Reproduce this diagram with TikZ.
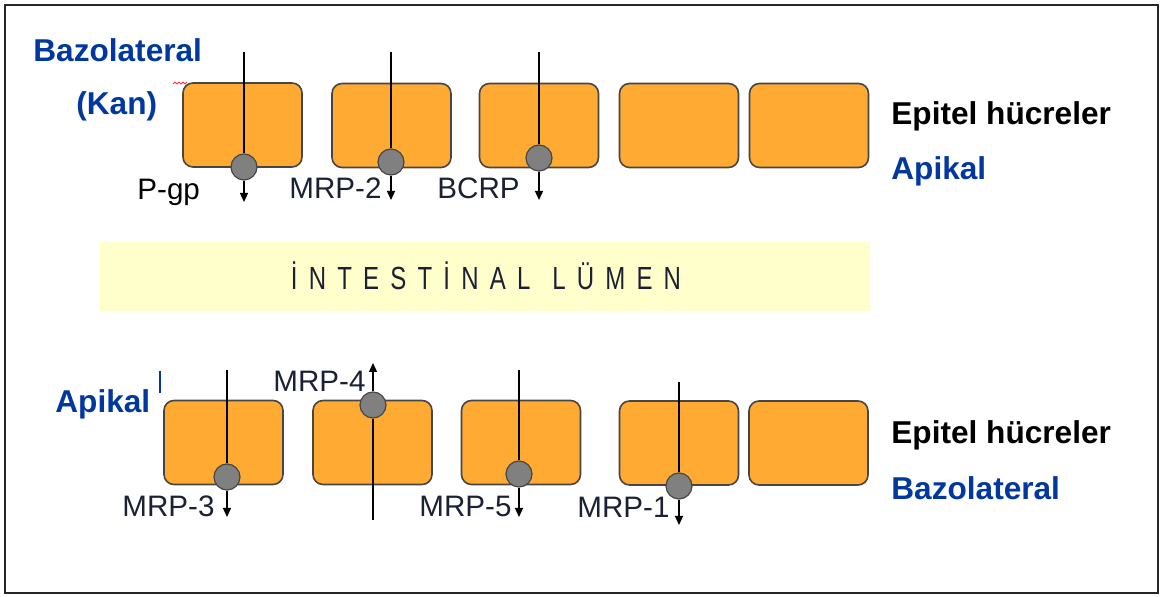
\documentclass[tikz,border=0pt]{standalone}
\usepackage{fontspec}
\setmainfont{Liberation Sans}
\newfontfamily\lumenfont[FakeStretch=0.75,LetterSpace=35]{Liberation Sans}
\usetikzlibrary{arrows.meta}
\definecolor{cellorange}{RGB}{255,170,51}
\definecolor{cellborder}{RGB}{70,70,70}
\definecolor{pumpgrey}{RGB}{128,128,128}
\definecolor{labelblue}{RGB}{0,56,160}
\definecolor{labeldark}{RGB}{28,32,53}
\definecolor{lumenyellow}{RGB}{255,255,204}
\tikzset{
  cell/.style={draw=cellborder, line width=0.8pt, fill=cellorange, rounded corners=5pt,
    minimum width=59.5pt, minimum height=42pt, inner sep=0pt},
  pump/.style={circle, draw=cellborder, line width=0.6pt, fill=pumpgrey, minimum size=13pt, inner sep=0pt},
  wire/.style={line width=0.65pt, black},
  flow/.style={line width=0.65pt, black, -{Triangle[length=4.5pt,width=4pt]}},
  sidelabel/.style={font=\bfseries\fontsize{15.8}{18}\selectfont, text=labelblue, anchor=base west, inner sep=0pt},
  cellslabel/.style={font=\bfseries\fontsize{15.8}{18}\selectfont, text=black, anchor=base west, inner sep=0pt},
  pumplabel/.style={font=\fontsize{14.8}{17}\selectfont, text=labeldark, anchor=base west, inner sep=0pt},
}
\begin{document}
\begin{tikzpicture}[x=0.5pt,y=-0.5pt]
\useasboundingbox (0,0) rectangle (1161,597);
\draw[line width=0.9pt, black!85] (5,5) rectangle (1158,593);

% lumen band
\node[fill=lumenyellow, minimum width=385pt, minimum height=34.5pt, inner sep=0pt] (lumen) at (485,276.5) {};
\node[font=\lumenfont\fontsize{16}{18}\selectfont, text=labeldark, inner sep=0pt, anchor=base] (lumentext) at (486,290) {İNTESTİNAL\hspace{2pt} LÜMEN};

% top row cells
\node[cell] (u1) at (242.5,125) {};
\node[cell] (u2) at (391.5,125.5) {};
\node[cell] (u3) at (539,125.5) {};
\node[cell] (u4) at (679,125.5) {};
\node[cell] (u5) at (809,125.5) {};

% bottom row cells
\node[cell] (l1) at (223.5,442.5) {};
\node[cell] (l2) at (372.5,442.5) {};
\node[cell] (l3) at (521,442.5) {};
\node[cell] (l4) at (679,443) {};
\node[cell] (l5) at (808.5,443) {};

% pumps
\node[pump] (c1) at (244,167) {};
\node[pump] (c2) at (391,162) {};
\node[pump] (c3) at (539,158) {};
\node[pump] (c4) at (227,477) {};
\node[pump] (c5) at (373,405) {};
\node[pump] (c6) at (519,474) {};
\node[pump] (c7) at (679,486) {};

% wire ends
\coordinate (t1) at (244,52);
\coordinate (a1) at (244,202);
\coordinate (t2) at (391,52);
\coordinate (a2) at (391,200);
\coordinate (t3) at (539,52);
\coordinate (a3) at (539,200);
\coordinate (t4) at (227,370);
\coordinate (a4) at (227,517);
\coordinate (b5) at (373,520);
\coordinate (a5) at (373,363);
\coordinate (t6) at (519,370);
\coordinate (a6) at (519,517);
\coordinate (t7) at (679,382);
\coordinate (a7) at (679,525);

\draw[wire] (t1) -- (c1);
\draw[flow] (c1) -- (a1);
\draw[wire] (t2) -- (c2);
\draw[flow] (c2) -- (a2);
\draw[wire] (t3) -- (c3);
\draw[flow] (c3) -- (a3);
\draw[wire] (t4) -- (c4);
\draw[flow] (c4) -- (a4);
\draw[wire] (b5) -- (c5);
\draw[flow] (c5) -- (a5);
\draw[wire] (t6) -- (c6);
\draw[flow] (c6) -- (a6);
\draw[wire] (t7) -- (c7);
\draw[flow] (c7) -- (a7);

% pump labels
\node[pumplabel, text=black] (lpgp) at (137,200) {P-gp};
\node[pumplabel] (lmrp2) at (289,199) {MRP-2};
\node[pumplabel] (lbcrp) at (437,199) {BCRP};
\node[pumplabel] (lmrp3) at (122,517) {MRP-3};
\node[pumplabel] (lmrp4) at (273,392) {MRP-4};
\node[pumplabel] (lmrp5) at (419,517) {MRP-5};
\node[pumplabel] (lmrp1) at (577,518) {MRP-1};

% side labels
\node[sidelabel] (bazo1) at (33,62) {Bazolateral};
\node[sidelabel] (kan) at (76,115) {(Kan)};
\node[cellslabel] (epi1) at (891,125) {Epitel hücreler};
\node[sidelabel] (api1) at (891,180) {Apikal};
\node[sidelabel] (api2) at (55,413) {Apikal};
\node[cellslabel] (epi2) at (891,444) {Epitel hücreler};
\node[sidelabel] (bazo2) at (891,500) {Bazolateral};

% editing artefacts
\draw[labelblue, line width=0.6pt] (160,371) -- (160,393);
\draw[red!80, line width=0.4pt] (173,84) -- (175,82) -- (177,84) -- (179,82) -- (181,84) -- (183,82) -- (185,84) -- (187,82);
\end{tikzpicture}
\end{document}
